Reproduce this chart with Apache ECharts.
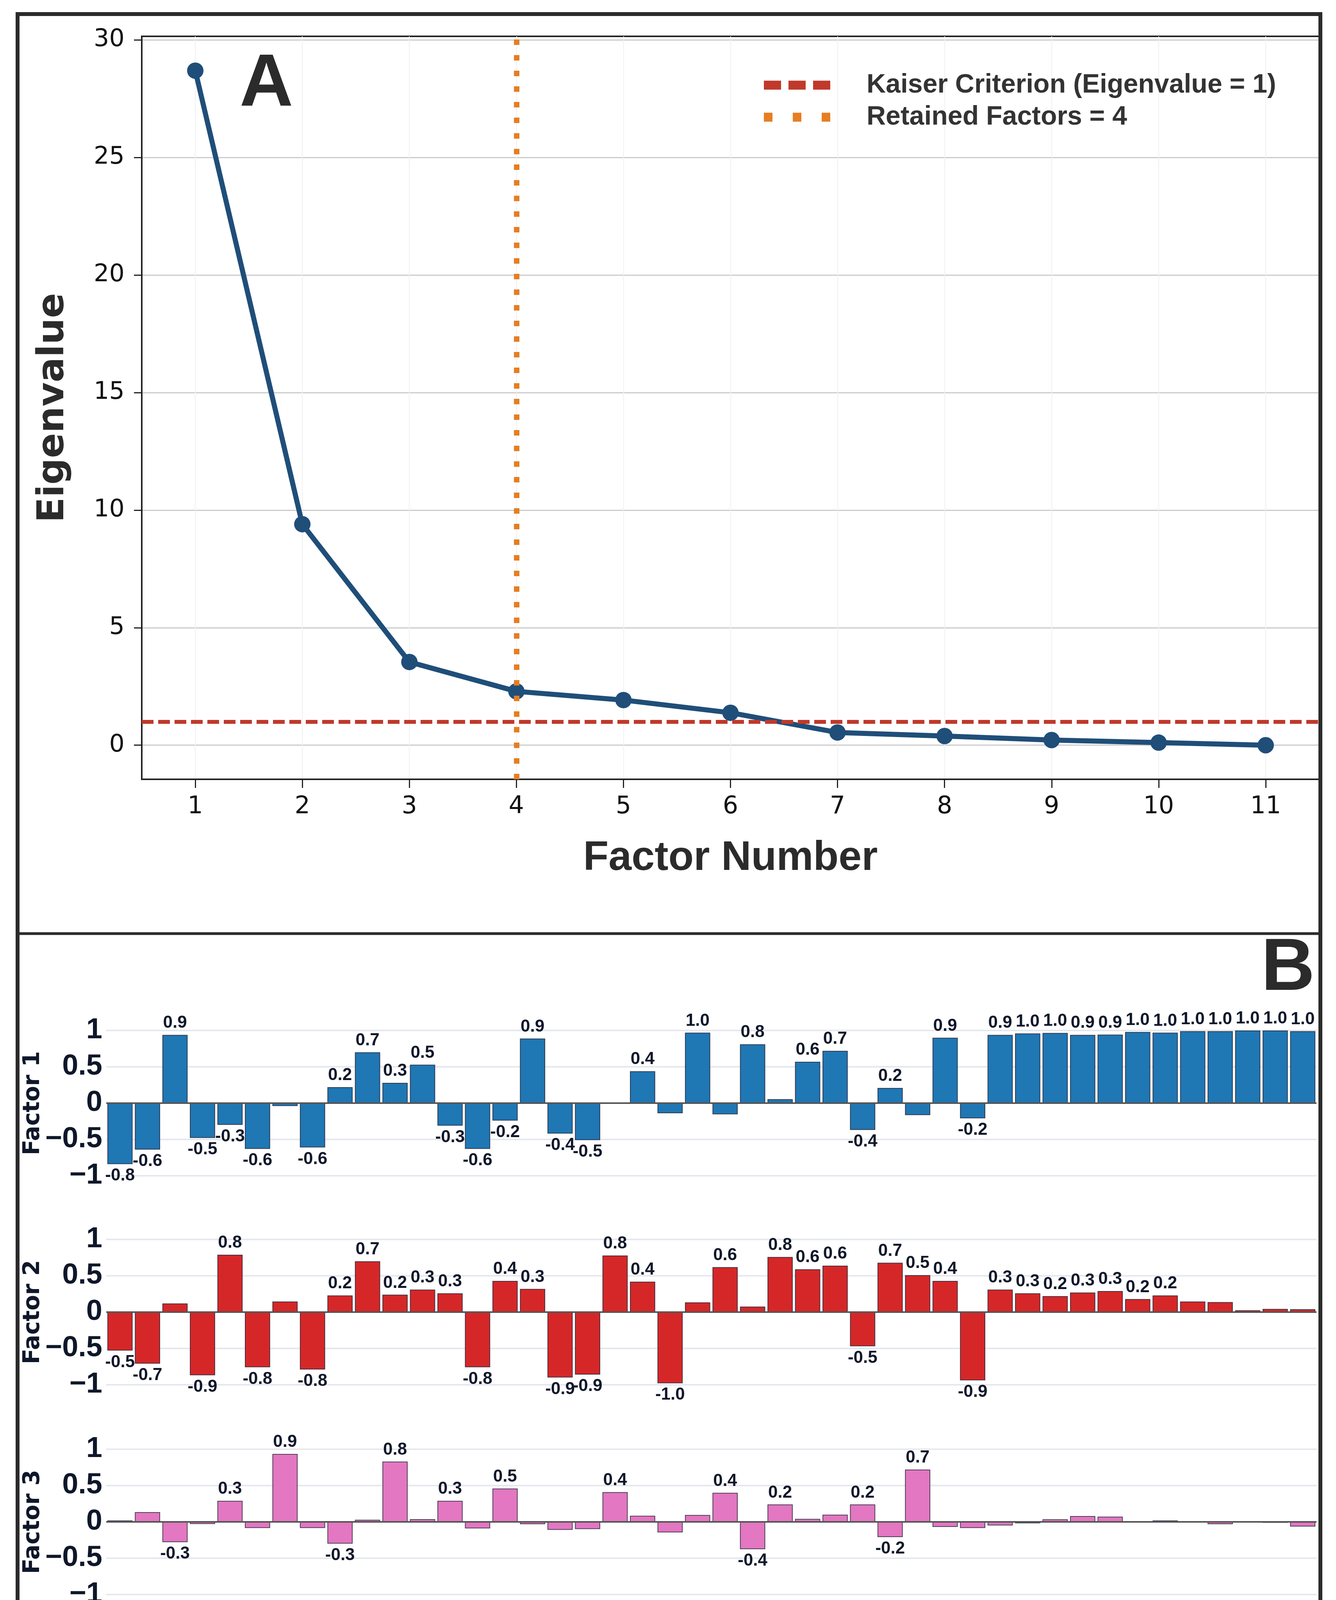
<!DOCTYPE html>
<html>
<head>
<meta charset="utf-8">
<script src="https://cdn.jsdelivr.net/npm/echarts@6.0.0/dist/echarts.min.js"></script>
<style>
  html, body { margin: 0; padding: 0; background: #fff; }
  #chart { width: 3421px; height: 4971px; }
</style>
</head>
<body>
<div id="chart"></div>
<script>
// ---- panel A: scree plot ----
var factorNumbers = [1, 2, 3, 4, 5, 6, 7, 8, 9, 10, 11];
var eigenvalues = [28.69, 9.40, 3.54, 2.29, 1.92, 1.38, 0.54, 0.39, 0.22, 0.11, 0.0];
var eigenTicks = [0, 5, 10, 15, 20, 25, 30];
var kaiserThreshold = 1;
var retainedFactors = 4;

// ---- panel B: factor loadings ----
var elements = ['SiO₂', 'Al₂O₃', 'Fe₂O₃', 'MgO', 'CaO', 'Na₂ O', 'K2 O', 'TiO₂', 'P₂O₅', 'MnO',
    'Cr₂O₃', 'LOI', 'TOT/C', 'TOT/S', 'Au', 'Co', 'Hf', 'Nb', 'V', 'W', 'Zr', 'Y', 'Mo', 'Cu',
    'Pb', 'Zn', 'Ni', 'Ba', 'As', 'Hg', 'La', 'Ce', 'Pr', 'Nd', 'Sm', 'Eu', 'Gd', 'Tb', 'Dy',
    'Ho', 'Er', 'Tm', 'Yb', 'Lu'];

var factor1 = [-0.84, -0.64, 0.94, -0.48, -0.30, -0.63, -0.04, -0.61, 0.22, 0.70,
    0.28, 0.53, -0.31, -0.63, -0.24, 0.89, -0.42, -0.51, 0.0, 0.44, -0.14, 0.97, -0.155, 0.81,
    0.055, 0.57, 0.72, -0.37, 0.21, -0.165, 0.90, -0.21, 0.94, 0.96, 0.966, 0.94, 0.944, 0.98, 0.97,
    0.99, 0.99, 1.0, 1.0, 0.99];
var factor2 = [-0.53, -0.71, 0.12, -0.87, 0.79, -0.76, 0.147, -0.79, 0.23, 0.70,
    0.24, 0.31, 0.26, -0.76, 0.43, 0.32, -0.90, -0.86, 0.78, 0.42, -0.98, 0.135, 0.62, 0.076,
    0.76, 0.59, 0.64, -0.47, 0.68, 0.51, 0.43, -0.94, 0.31, 0.26, 0.22, 0.27, 0.29, 0.18, 0.23,
    0.147, 0.139, 0.025, 0.045, 0.04];
var factor3 = [0.02, 0.135, -0.28, -0.03, 0.29, -0.085, 0.935, -0.085, -0.30, 0.03,
    0.83, 0.037, 0.29, -0.09, 0.46, -0.032, -0.11, -0.10, 0.41, 0.085, -0.145, 0.096, 0.40, -0.376,
    0.24, 0.041, 0.10, 0.24, -0.21, 0.72, -0.07, -0.085, -0.05, -0.02, 0.036, 0.08, 0.073, 0.01, 0.02,
    0.005, -0.032, 0.0, -0.013, -0.064];
var factor4 = [0.03, -0.05, -0.084, 0.043, 0.36, 0.016, -0.19, 0.035, 0.586, 0.035,
    -0.068, -0.673, 0.716, 0.022, -0.554, -0.12, -0.005, 0.003, -0.168, -0.51, -0.035, 0.032, 0.36, -0.14,
    -0.046, 0.03, -0.068, 0.197, 0.54, 0.186, -0.027, 0.019, -0.08, -0.10, -0.08, 0.04, 0.022, -0.057, 0.024,
    -0.027, -0.068, -0.068, -0.068, -0.08];

var factorNames = ['Factor 1', 'Factor 2', 'Factor 3', 'Factor 4'];
var factorColors = ['#1f77b4', '#d62728', '#e377c2', '#17becf'];

var kaiserName = 'Kaiser Criterion (Eigenvalue = 1)';
var retainedName = 'Retained Factors = ' + retainedFactors;

(function () {
    var chart = echarts.init(document.getElementById('chart'));
    var ink = '#0f172a';
    var labelMin = 0.175;

    // layout of the four loading panels (top of +1 line)
    var factorTops = [2638, 3173, 3710, 4247];
    var factorHeight = 372;

    var grids = [{ left: 363, right: 43, top: 93, height: 1902, show: true,
        borderColor: '#222', borderWidth: 4, containLabel: false }];
    factorTops.forEach(function (t) {
        grids.push({ left: 272, right: 50, top: t, height: factorHeight, containLabel: false });
    });

    var xAxes = [{
        type: 'value', gridIndex: 0, min: 0.5, max: 11.5,
        name: 'Factor Number', nameLocation: 'middle', nameGap: 150,
        nameTextStyle: { fontFamily: 'Liberation Sans', fontWeight: 'bold', fontSize: 106, color: '#2b2b2b' },
        axisLine: { show: true, onZero: false, lineStyle: { color: '#222', width: 4 } },
        axisTick: { show: true, length: 22, lineStyle: { color: '#222', width: 3 }, customValues: factorNumbers },
        axisLabel: { customValues: factorNumbers, margin: 40, fontFamily: 'DejaVu Sans', fontSize: 62, color: '#111' },
        splitLine: { show: true, lineStyle: { color: '#f0f0f0', width: 2 } }
    }];
    var yAxes = [{
        type: 'value', gridIndex: 0, min: -1.45, max: 30.15,
        name: 'Eigenvalue', nameLocation: 'middle', nameGap: 178,
        nameTextStyle: { fontFamily: 'DejaVu Sans', fontWeight: 'bold', fontSize: 95, color: '#2b2b2b' },
        axisLine: { show: true, onZero: false, lineStyle: { color: '#222', width: 4 } },
        axisTick: { show: true, length: 20, lineStyle: { color: '#222', width: 3 }, customValues: eigenTicks },
        axisLabel: { customValues: eigenTicks, margin: 44, fontFamily: 'DejaVu Sans', fontSize: 62, color: '#111' },
        splitLine: { show: true, lineStyle: { color: '#cccccc', width: 3 } }
    }];

    factorNames.forEach(function (name, i) {
        var last = i === factorNames.length - 1;
        xAxes.push({
            type: 'category', gridIndex: i + 1, data: elements, boundaryGap: true,
            axisLine: { show: false, onZero: false }, axisTick: { show: false },
            splitLine: { show: false },
            axisLabel: {
                show: last, interval: 0, rotate: 65, margin: 95,
                fontFamily: 'DejaVu Sans', fontWeight: 'bold', fontStyle: 'italic',
                fontSize: 66, color: ink
            }
        });
        yAxes.push({
            type: 'value', gridIndex: i + 1, min: -1, max: 1, interval: 0.5,
            name: name, nameLocation: 'middle', nameGap: 158, nameMoveOverlap: false,
            nameTextStyle: { fontFamily: 'DejaVu Sans', fontWeight: 'bold', fontSize: 58, color: ink },
            axisLine: { show: false }, axisTick: { show: false },
            axisLabel: {
                margin: 10, fontFamily: 'Liberation Sans', fontWeight: 'bold', fontSize: 74, color: ink,
                formatter: function (v) {
                    var s = String(Math.round(v * 10) / 10);
                    return v < 0 ? '\u2212' + s.slice(1) : s;
                }
            },
            splitLine: { show: true, lineStyle: { color: '#e6e8ee', width: 4 } }
        });
    });

    var series = [{
        name: 'Eigenvalue', type: 'line', xAxisIndex: 0, yAxisIndex: 0,
        data: factorNumbers.map(function (f, i) { return [f, eigenvalues[i]]; }),
        symbol: 'circle', symbolSize: 42,
        lineStyle: { color: '#1f4e79', width: 13 },
        itemStyle: { color: '#1f4e79' },
        z: 3
    }, {
        name: kaiserName, type: 'line', xAxisIndex: 0, yAxisIndex: 0, data: [],
        itemStyle: { color: '#c0392b' },
        markLine: {
            silent: true, symbol: 'none', label: { show: false },
            lineStyle: { color: '#c0392b', type: [30, 12], width: 10 },
            data: [{ yAxis: kaiserThreshold }]
        }
    }, {
        name: retainedName, type: 'line', xAxisIndex: 0, yAxisIndex: 0, data: [],
        itemStyle: { color: '#e67e22' },
        markLine: {
            silent: true, symbol: 'none', label: { show: false },
            lineStyle: { color: '#e67e22', type: [14, 26], width: 14 },
            data: [{ xAxis: retainedFactors }]
        }
    }];

    [factor1, factor2, factor3, factor4].forEach(function (vals, i) {
        series.push({
            name: factorNames[i], type: 'bar', xAxisIndex: i + 1, yAxisIndex: i + 1,
            barWidth: '92%',
            itemStyle: { color: factorColors[i], borderColor: 'rgba(25,25,45,0.75)', borderWidth: 2 },
            data: vals.map(function (v) {
                return {
                    value: v,
                    label: {
                        show: Math.abs(v) >= labelMin,
                        position: v >= 0 ? 'top' : 'bottom',
                        distance: 8,
                        formatter: function (p) { return p.value.toFixed(1); },
                        fontFamily: 'Liberation Sans', fontWeight: 'bold', fontSize: 44, color: ink
                    }
                };
            }),
            markLine: {
                silent: true, symbol: 'none', label: { show: false },
                lineStyle: { color: '#555', type: 'solid', width: 4 },
                data: [{ yAxis: 0 }]
            }
        });
    });

    var option = {
        backgroundColor: '#ffffff',
        animation: false,
        grid: grids,
        xAxis: xAxes,
        yAxis: yAxes,
        legend: {
            orient: 'vertical', left: 1951, top: 179,
            itemWidth: 170, itemHeight: 23, itemGap: 14,
            itemStyle: { borderWidth: 0 },
            textStyle: { fontFamily: 'Liberation Sans', fontWeight: 'bold', fontSize: 68, color: '#333',
                padding: [0, 0, 0, 88] },
            data: [
                { name: kaiserName, icon: 'path://M0,0h44v23h-44z M63,0h44v23h-44z M126,0h44v23h-44z' },
                { name: retainedName, icon: 'path://M0,0h22v23h-22z M74,0h22v23h-22z M148,0h22v23h-22z' }
            ]
        },
        graphic: [
            { type: 'rect', shape: { x: 45, y: 36, width: 3336, height: 4906 },
              style: { fill: 'none', stroke: '#2b2b2b', lineWidth: 10 }, z: 100 },
            { type: 'line', shape: { x1: 45, y1: 2390, x2: 3381, y2: 2390 },
              style: { stroke: '#2b2b2b', lineWidth: 7 }, z: 100 },
            { type: 'text', x: 682, y: 218, z: 100,
              style: { text: 'A', fontFamily: 'Liberation Sans', fontWeight: 'bold', fontSize: 190,
                  fill: '#2b2b2b', textAlign: 'center', textVerticalAlign: 'middle' } },
            { type: 'text', x: 3298, y: 2482, z: 100,
              style: { text: 'B', fontFamily: 'Liberation Sans', fontWeight: 'bold', fontSize: 190,
                  fill: '#2b2b2b', textAlign: 'center', textVerticalAlign: 'middle' } }
        ],
        series: series
    };

    chart.setOption(option);
})();
</script>
</body>
</html>
